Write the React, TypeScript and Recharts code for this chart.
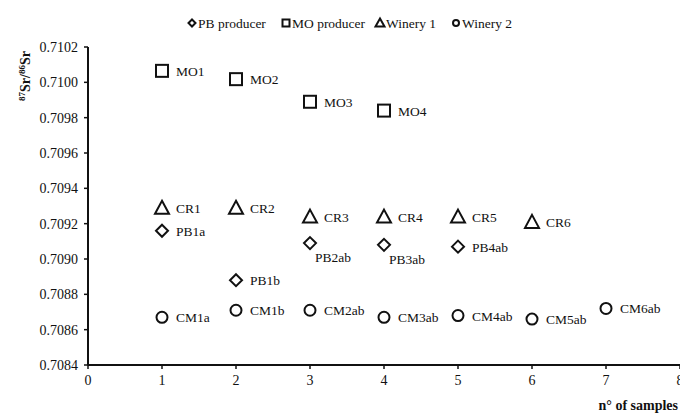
import React from "react";
import { ScatterChart, Scatter, XAxis, YAxis } from "recharts";

const pbNames = ["PB1a", "PB1b", "PB2ab", "PB3ab", "PB4ab"];
const pbX = [1, 2, 3, 4, 5];
const pbY = [0.70916, 0.70888, 0.70909, 0.70908, 0.70907];

const moNames = ["MO1", "MO2", "MO3", "MO4"];
const moX = [1, 2, 3, 4];
const moY = [0.710065, 0.710018, 0.70989, 0.70984];

const w1Names = ["CR1", "CR2", "CR3", "CR4", "CR5", "CR6"];
const w1X = [1, 2, 3, 4, 5, 6];
const w1Y = [0.70929, 0.70929, 0.70924, 0.70924, 0.70924, 0.70921];

const w2Names = ["CM1a", "CM1b", "CM2ab", "CM3ab", "CM4ab", "CM5ab", "CM6ab"];
const w2X = [1, 2, 3, 4, 5, 6, 7];
const w2Y = [0.70867, 0.70871, 0.70871, 0.70867, 0.70868, 0.70866, 0.70872];

const xTicks = [0, 1, 2, 3, 4, 5, 6, 7, 8];
const yTicks = [0.7084, 0.7086, 0.7088, 0.709, 0.7092, 0.7094, 0.7096, 0.7098, 0.71, 0.7102];

// labels that sit under the marker instead of beside it
const labelsBelow = ["PB2ab", "PB3ab"];

const FONT = "'Liberation Serif', 'Times New Roman', serif";
const INK = "#111";

const build = (names, xs, ys) => names.map((n, i) => ({ name: n, x: xs[i], y: ys[i] }));

const marker = (kind, cx, cy, s = 6) => {
  const p = { fill: "none", stroke: INK, strokeWidth: 2 };
  if (kind === "square") return <rect x={cx - s} y={cy - s} width={2 * s} height={2 * s} {...p} />;
  if (kind === "diamond")
    return <polygon points={`${cx},${cy - s} ${cx + s},${cy} ${cx},${cy + s} ${cx - s},${cy}`} {...p} />;
  if (kind === "triangle")
    return <polygon points={`${cx},${cy - s - 1} ${cx + s + 1},${cy + s} ${cx - s - 1},${cy + s}`} {...p} />;
  return <circle cx={cx} cy={cy} r={s - 0.5} {...p} />;
};

const makeShape = (kind) => (props) => {
  const { cx, cy, payload } = props;
  const below = labelsBelow.includes(payload.name);
  return (
    <g>
      {marker(kind, cx, cy)}
      <text
        x={below ? cx + 5 : cx + 14}
        y={below ? cy + 19 : cy + 5}
        fontFamily={FONT}
        fontSize={13.5}
        fill={INK}
      >
        {payload.name}
      </text>
    </g>
  );
};

const legendItems = [
  { kind: "diamond", label: "PB producer", x: 192 },
  { kind: "square", label: "MO producer", x: 286 },
  { kind: "triangle", label: "Winery 1", x: 380 },
  { kind: "circle", label: "Winery 2", x: 456 },
];

const LegendSvg = () => (
  <g>
    {legendItems.map((it) => (
      <g key={it.label}>
        {marker(it.kind, it.x, 23, 3.5)}
        <text x={it.x + 6} y={28} fontFamily={FONT} fontSize={13.5} fill={INK}>
          {it.label}
        </text>
      </g>
    ))}
  </g>
);

const YLabel = () => (
  <text
    transform="translate(30, 76) rotate(-90)"
    textAnchor="middle"
    fontFamily={FONT}
    fontSize={14}
    fontWeight="bold"
    fill={INK}
  >
    <tspan fontSize={9} dy={-5}>87</tspan>
    <tspan dy={5}>Sr/</tspan>
    <tspan fontSize={9} dy={-5}>86</tspan>
    <tspan dy={5}>Sr</tspan>
  </text>
);

export default function App() {
  const tickStyle = { fontFamily: FONT, fontSize: 14, fill: INK };
  return (
    <div style={{ position: "absolute", left: 0, top: 0, background: "#fff" }}>
      <ScatterChart width={680} height={417} margin={{ top: 47, right: 0, bottom: 22, left: 28 }}>
        <XAxis
          type="number"
          dataKey="x"
          domain={[0, 8]}
          ticks={xTicks}
          axisLine={{ stroke: INK, strokeWidth: 2 }}
          tickLine={{ stroke: INK, strokeWidth: 1.5 }}
          tickSize={4}
          tick={tickStyle}
          tickMargin={6}
          height={30}
          interval={0}
        />
        <YAxis
          type="number"
          dataKey="y"
          domain={[0.7084, 0.7102]}
          ticks={yTicks}
          tickFormatter={(v) => v.toFixed(4)}
          axisLine={{ stroke: INK, strokeWidth: 2 }}
          tickLine={{ stroke: INK, strokeWidth: 1.5 }}
          tickSize={4}
          tick={tickStyle}
          tickMargin={6}
          width={60}
          interval={0}
          allowDataOverflow
        />
        <Scatter data={build(pbNames, pbX, pbY)} shape={makeShape("diamond")} isAnimationActive={false} />
        <Scatter data={build(moNames, moX, moY)} shape={makeShape("square")} isAnimationActive={false} />
        <Scatter data={build(w1Names, w1X, w1Y)} shape={makeShape("triangle")} isAnimationActive={false} />
        <Scatter data={build(w2Names, w2X, w2Y)} shape={makeShape("circle")} isAnimationActive={false} />
        <LegendSvg />
        <YLabel />
        <text x={678} y={410} textAnchor="end" fontFamily={FONT} fontSize={14} fontWeight="bold" fill={INK}>
          n° of samples
        </text>
      </ScatterChart>
    </div>
  );
}
